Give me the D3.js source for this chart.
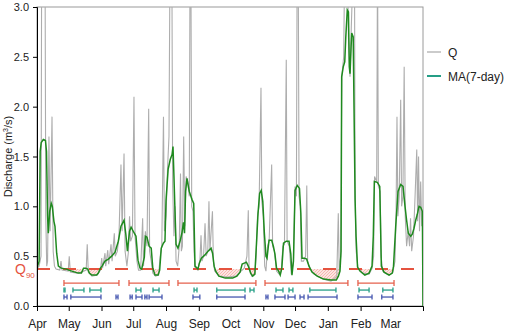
<!DOCTYPE html>
<html>
<head>
<meta charset="utf-8">
<script src="https://cdn.jsdelivr.net/npm/d3@7"></script>
<style>
  body { margin: 0; background: #fff; }
  svg { display: block; font-family: "Liberation Sans", Arial, sans-serif; }
  .axis path, .axis line { stroke: #000; }
  .axis text { font-size: 11px; fill: #222; }
  .x.axis text { font-size: 12px; }
</style>
</head>
<body>
<div id="chart"></div>
<script>
// x axis: days since 1 April, month starts as tick positions
const months = ['Apr','May','Jun','Jul','Aug','Sep','Oct','Nov','Dec','Jan','Feb','Mar'];
const monthStartDays = [0,30,61,91,122,153,183,214,244,275,306,334];
const yTicks = [0, 0.5, 1.0, 1.5, 2.0, 2.5, 3.0];
const q90 = 0.37;

// daily discharge Q (day, m3/s)
const qPoints = [
  [0,0.37],[2,0.40],[3.8,0.5],[4.4,3.5],[7.6,3.5],[8.3,0.9],[9.2,0.40],[10,0.45],[11.3,1.70],[12.4,0.75],
  [14.2,1.90],[15.3,0.55],[16.5,0.40],[18,0.37],[21.5,0.36],[22.7,0.45],[23.7,0.36],[29.5,0.35],[30.5,0.50],
  [31.5,0.34],[38,0.33],[42,0.34],[46.5,0.36],[47.5,0.62],[48.5,0.34],[52,0.30],[57,0.31],[60,0.36],
  [61.2,0.48],[62,0.38],[64.3,0.53],[65,0.40],[66.9,0.56],[67.8,0.42],[70,0.62],[71,0.45],[73.1,0.73],
  [74,0.50],[76,0.55],[77.5,0.70],[79.4,1.42],[80.5,0.75],[82.3,1.53],[83.3,0.55],[85,0.40],[86.5,0.55],
  [87.5,0.90],[88.5,0.65],[90.2,0.70],[91.7,2.10],[92.7,0.70],[94.5,0.45],[96,0.36],[98,0.36],[99.9,0.88],
  [100.7,0.40],[102.5,0.75],[104,0.60],[105.6,1.98],[106.5,0.55],[108,0.45],[109.5,0.33],[112,0.30],
  [115,0.31],[116.5,0.50],[118,0.60],[119.6,1.90],[120.5,0.75],[122,0.90],[123.5,1.40],[124.8,1.70],
  [125.8,3.5],[127.5,3.5],[128.3,1.20],[129.5,0.70],[130.5,1.00],[131.5,0.45],[133,0.40],[134.5,0.60],
  [135.7,1.33],[136.5,0.55],[137.5,0.60],[138.7,1.70],[139.8,0.80],[141,1.30],[142.5,1.25],[144,1.10],
  [144.7,3.5],[145.5,3.5],[146.3,1.00],[147.5,0.95],[148.5,0.55],[149.5,0.38],[152,0.36],[154,0.45],
  [155.1,0.71],[156,0.45],[157.5,0.50],[158.9,0.83],[160,0.50],[161.5,0.55],[162.6,1.05],[163.5,0.55],
  [165.9,0.95],[166.8,0.45],[168,0.35],[172,0.30],[180,0.29],[188,0.30],[192,0.34],[196,0.38],[198.5,0.50],
  [199.8,0.96],[200.5,0.40],[203,0.30],[206,0.32],[207.2,0.50],[208.5,0.90],[210,1.00],[211.8,2.19],
  [212.6,1.05],[214,0.90],[215.3,0.40],[216.5,0.35],[218,0.60],[219.5,0.65],[221.9,1.42],[222.8,0.60],
  [224.5,0.55],[226.5,0.35],[229,0.32],[231,0.35],[232.5,0.60],[234,0.62],[235.7,2.47],[236.5,0.65],
  [238.5,0.60],[240.5,0.32],[242.5,0.45],[244,1.20],[245.3,1.10],[246,3.5],[247,3.5],[247.8,1.10],
  [249,1.00],[250,0.45],[252,0.45],[254,0.50],[255.1,1.21],[255.9,0.45],[258,0.38],[262,0.32],[270,0.27],
  [278,0.25],[283.5,0.30],[284.9,0.93],[285.8,0.35],[287.2,0.50],[288.2,2.30],[290,2.50],[291,3.5],
  [293.5,3.5],[294.5,2.70],[296,2.30],[297.2,2.80],[299.2,3.5],[300.2,3.5],[300.8,1.10],[301.8,0.55],
  [303.5,0.38],[308,0.33],[314,0.32],[317,0.38],[318.3,0.50],[319.2,1.30],[321.2,1.25],[322,3.5],
  [322.8,1.20],[324.5,1.15],[325.3,0.50],[327,0.35],[333,0.31],[336.5,0.34],[338.5,0.45],[339.5,0.90],
  [340.4,1.90],[341.3,0.90],[342.5,1.10],[343.9,2.07],[344.8,1.00],[346,1.10],[347.2,2.40],[348.2,0.90],
  [349.5,0.60],[351,0.75],[352.3,0.60],[353.2,0.88],[354.3,0.55],[356,0.70],[357.5,1.10],[359.1,1.57],
  [359.9,0.85],[360.8,1.50],[361.7,0.75],[362.8,1.25],[363.8,0.80],[364.5,0.95]
];

// 7-day moving average (day, m3/s)
const maPoints = [
  [0,0.38],[2,0.45],[3,1.55],[4,1.64],[6,1.67],[8,1.66],[9,1.55],[10,0.90],[10.7,0.73],[12,0.95],
  [13.5,1.03],[14.5,1.00],[16,0.85],[17,0.80],[18.6,0.53],[20.2,0.40],[23,0.38],[28,0.37],[30,0.36],
  [33,0.35],[36,0.34],[39,0.33],[42,0.33],[44,0.38],[46,0.38],[48,0.37],[49.5,0.33],[51.7,0.31],
  [56.4,0.31],[58,0.33],[60,0.38],[61.5,0.40],[64.3,0.45],[67.5,0.47],[70.6,0.50],[73.8,0.54],
  [76.9,0.65],[79.4,0.80],[82.3,0.86],[84,0.72],[85.5,0.55],[87.5,0.75],[89,0.79],[92,0.73],[93.6,0.70],
  [95.5,0.46],[97.4,0.38],[99,0.37],[101.5,0.49],[102.5,0.70],[104,0.69],[106,0.60],[108,0.58],
  [109.5,0.38],[111.6,0.31],[114.5,0.31],[116,0.36],[117.5,0.58],[119.5,0.63],[121,0.65],[122,1.06],
  [124,1.37],[126,1.47],[127.7,1.52],[128.6,1.60],[129.5,1.30],[130.5,0.95],[131.5,0.62],[133.3,0.58],
  [135.5,0.66],[137,0.73],[138.5,0.84],[139.5,0.73],[140.5,1.15],[141.8,1.28],[144,1.15],[146.5,1.07],
  [148.2,1.03],[149.4,0.40],[152.2,0.37],[153.5,0.43],[155.4,0.48],[158.6,0.51],[161.7,0.55],[164.6,0.58],
  [166,0.53],[167.5,0.40],[169,0.35],[172,0.30],[178,0.28],[185,0.28],[189,0.30],[192,0.34],[194,0.42],
  [196,0.43],[198,0.44],[199.8,0.40],[202,0.33],[204,0.30],[206,0.32],[207.5,0.62],[209,0.93],
  [210.5,1.13],[212,1.16],[213.5,1.05],[215,0.73],[216.5,0.50],[217.5,0.48],[219.4,0.66],[221.9,0.66],
  [223.5,0.60],[225,0.52],[226.5,0.38],[228.5,0.35],[230,0.31],[231.5,0.38],[233.1,0.63],[235.7,0.65],
  [238.3,0.65],[240,0.52],[241.1,0.31],[242.5,0.45],[244,1.16],[246.1,1.21],[248.2,1.18],[249.5,0.93],
  [250.6,0.48],[253,0.48],[255,0.47],[257.2,0.40],[260,0.34],[265,0.30],[271,0.27],[278,0.26],
  [283,0.26],[285,0.30],[286.5,0.35],[287.5,0.55],[288.1,2.30],[289.6,2.40],[291,2.45],[292,2.70],
  [293.4,2.97],[294.5,2.95],[295.3,2.40],[296,2.33],[297,2.60],[297.6,2.74],[299,2.70],[299.8,1.97],
  [300.8,1.06],[301.7,0.70],[303.1,0.39],[305.4,0.35],[310,0.31],[314,0.33],[316.8,0.40],[318,0.70],
  [319,1.25],[321.8,1.24],[324.1,1.20],[325,0.73],[325.6,0.40],[328.1,0.34],[332.9,0.31],[336,0.33],
  [337.1,0.40],[339.2,0.80],[341.4,1.15],[343.9,1.22],[346.1,1.20],[348,1.00],[349.5,0.86],[351.1,0.73],
  [353.4,0.70],[354.9,0.72],[356.5,0.78],[358.1,0.86],[359.6,0.92],[361.2,1.00],[362.8,0.99],
  [364.4,0.95],[365,0.0]
];

// low-flow event spans (start day, end day)
const redEvents = [[25.5,77.5],[87,124.8],[133.3,207],[215.6,294],[303.5,337.6]];
const greenEvents = [[25.5,26.5],[34,44.4],[50,60.5],[93.6,98.3],[109.7,115.4],[148.5,151.3],[170,196.7],
  [201.4,205.2],[226,232.6],[238.3,242],[258,282.7],[304.5,314],[327,336.6]];
const blueEvents = [[25.5,28.4],[32,60.5],[74.7,76.6],[88,90],[93.6,99.3],[102,104],[106,118.2],[147.5,154],
  [170,196.7],[216.5,218.4],[225,234.5],[237.4,244],[248.7,252.5],[256.3,283.7],[303.5,316.8],[326,336.6]];

const W = 505, H = 333;
const margin = {top: 7, right: 82, bottom: 27, left: 37};
const width = W - margin.left - margin.right;
const height = H - margin.top - margin.bottom;

const x = d3.scaleLinear().domain([0, 365]).range([0, width]);
const y = d3.scaleLinear().domain([0, 3]).range([height, 0]);

const svg = d3.select('#chart').append('svg')
    .attr('width', W).attr('height', H);

const defs = svg.append('defs');
defs.append('clipPath').attr('id', 'plotClip')
  .append('rect').attr('width', width).attr('height', height);
defs.append('clipPath').attr('id', 'belowQ90')
  .append('rect').attr('y', y(q90)).attr('width', width).attr('height', height - y(q90));

const hatch = defs.append('pattern').attr('id', 'hatch')
    .attr('patternUnits', 'userSpaceOnUse').attr('width', 3).attr('height', 3);
hatch.append('rect').attr('width', 3).attr('height', 3).attr('fill', '#fde4e1');
hatch.append('path').attr('d', 'M-1,1 l2,-2 M0,3 l3,-3 M2,4 l2,-2')
    .attr('stroke', '#f3a59c').attr('stroke-width', 0.7);

const g = svg.append('g')
    .attr('transform', 'translate(' + margin.left + ',' + margin.top + ')');

// frame (top / right)
g.append('rect')
    .attr('width', width).attr('height', height)
    .attr('fill', 'none').attr('stroke', '#9a9a9a').attr('stroke-width', 1);

const plot = g.append('g').attr('clip-path', 'url(#plotClip)');

// deficit area below Q90
plot.append('g').attr('clip-path', 'url(#belowQ90)')
  .append('path')
    .datum(maPoints.filter(d => d[0] < 365))
    .attr('fill', 'url(#hatch)')
    .attr('d', d3.area()
        .x(d => x(d[0]))
        .y0(y(q90))
        .y1(d => y(d[1])));

const line = d3.line().x(d => x(d[0])).y(d => y(d[1]));

plot.append('path')
    .datum(qPoints)
    .attr('fill', 'none')
    .attr('stroke', '#adadad')
    .attr('stroke-width', 1.1)
    .attr('d', line);

plot.append('line')
    .attr('x1', 0).attr('x2', width)
    .attr('y1', y(q90)).attr('y2', y(q90))
    .attr('stroke', '#e5533f')
    .attr('stroke-width', 2)
    .attr('stroke-dasharray', '13,13');

plot.append('path')
    .datum(maPoints)
    .attr('fill', 'none')
    .attr('stroke', '#1f8a1f')
    .attr('stroke-width', 1.5)
    .attr('d', line);

// event rows
function drawEvents(data, level, color, cap) {
  const row = g.append('g').attr('stroke', color).attr('stroke-width', 1.3).attr('fill', 'none');
  const yy = y(level);
  data.forEach(function(d){
    row.append('line').attr('x1', x(d[0])).attr('x2', x(d[1])).attr('y1', yy).attr('y2', yy);
    row.append('line').attr('x1', x(d[0])).attr('x2', x(d[0])).attr('y1', yy - cap).attr('y2', yy + cap);
    row.append('line').attr('x1', x(d[1])).attr('x2', x(d[1])).attr('y1', yy - cap).attr('y2', yy + cap);
  });
}
drawEvents(redEvents, 0.23, '#e5604c', 3);
drawEvents(greenEvents, 0.16, '#259e86', 2.5);
drawEvents(blueEvents, 0.09, '#4657b0', 2.5);

// axes
const xAxis = d3.axisBottom(x)
    .tickValues(monthStartDays)
    .tickSize(5)
    .tickPadding(8)
    .tickFormat((d, i) => months[i]);
g.append('g').attr('class', 'x axis')
    .attr('transform', 'translate(0,' + height + ')')
    .call(xAxis);

const yAxis = d3.axisLeft(y)
    .tickValues(yTicks)
    .tickSize(4)
    .tickPadding(4)
    .tickFormat(d3.format('.1f'));
g.append('g').attr('class', 'y axis').call(yAxis);

// y label
const ylab = svg.append('text')
    .attr('transform', 'translate(12,' + (margin.top + y(1.5)) + ') rotate(-90)')
    .attr('text-anchor', 'middle')
    .attr('font-size', 11)
    .attr('fill', '#222');
ylab.append('tspan').text('Discharge (m');
ylab.append('tspan').attr('font-size', 7).attr('dy', -4).text('3');
ylab.append('tspan').attr('dy', 4).text('/s)');

// Q90 label
const qlab = svg.append('text')
    .attr('x', 15).attr('y', margin.top + y(q90) + 5)
    .attr('fill', '#e5533f')
    .attr('font-size', 14);
qlab.append('tspan').text('Q');
qlab.append('tspan').attr('font-size', 8).attr('dy', 4).text('90');

// legend
const legend = svg.append('g').attr('transform', 'translate(427,0)');
const legendItems = [{label: 'Q', color: '#a8a8a8', y: 52}, {label: 'MA(7-day)', color: '#259e86', y: 76}];
legendItems.forEach(function(d){
  legend.append('line').attr('x1', 0).attr('x2', 14).attr('y1', d.y).attr('y2', d.y)
      .attr('stroke', d.color).attr('stroke-width', d.label === 'Q' ? 1.2 : 2);
  legend.append('text').attr('x', 21).attr('y', d.y + 4.5)
      .attr('font-size', 12).attr('fill', '#222').text(d.label);
});
</script>
</body>
</html>
